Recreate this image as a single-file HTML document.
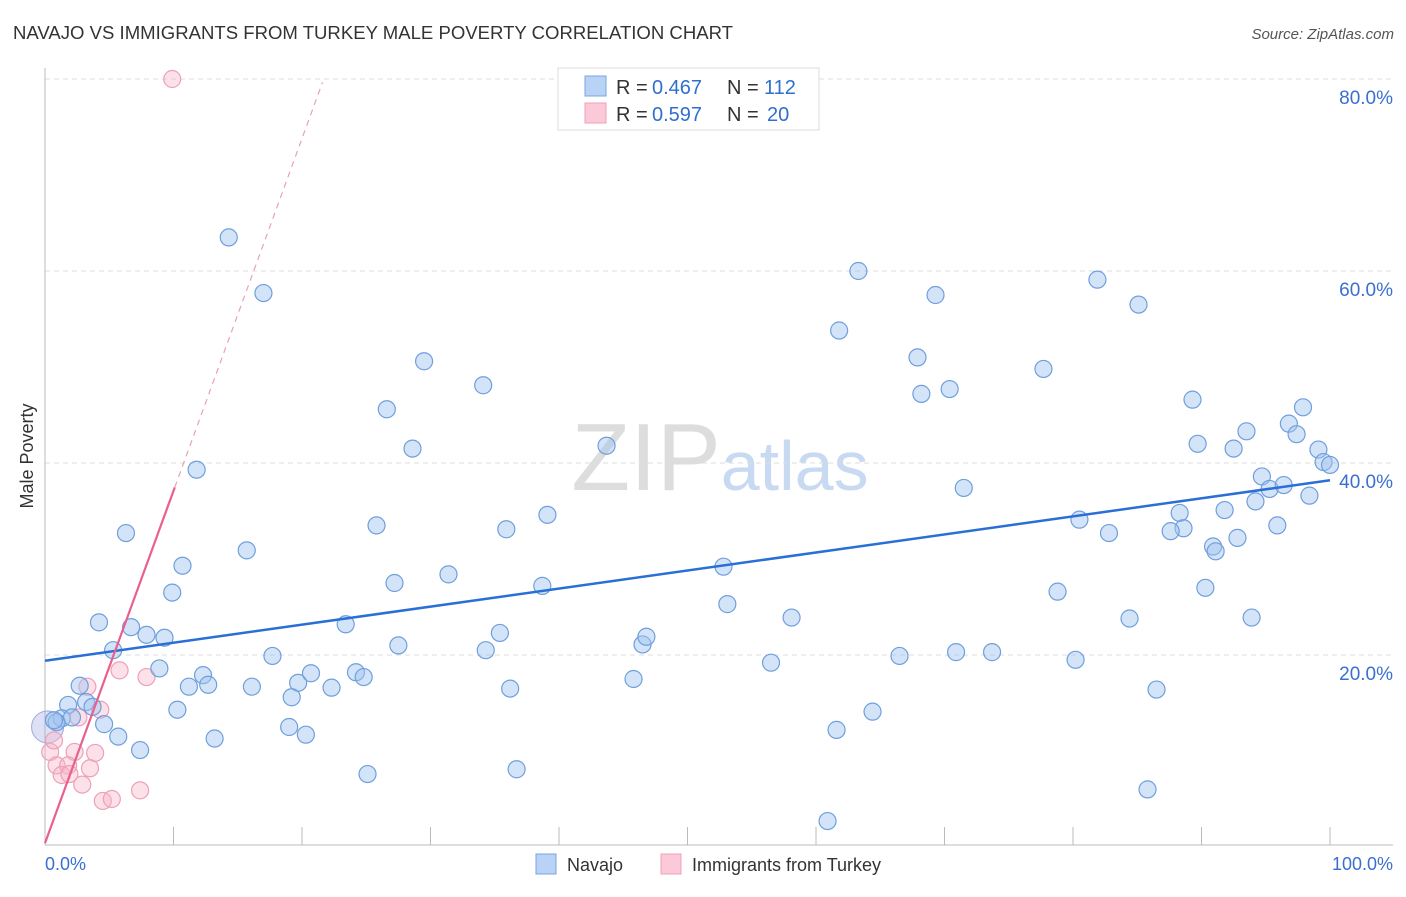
<!DOCTYPE html>
<html><head><meta charset="utf-8"><style>
body{margin:0;background:#fff;font-family:"Liberation Sans",sans-serif;}
svg text{font-family:"Liberation Sans",sans-serif;}
</style></head><body>
<svg id="chart" width="1406" height="892" xmlns="http://www.w3.org/2000/svg">
<text x="13" y="39" font-size="18" fill="#333" textLength="720" lengthAdjust="spacingAndGlyphs">NAVAJO VS IMMIGRANTS FROM TURKEY MALE POVERTY CORRELATION CHART</text>
<text x="1394" y="39" font-size="15" fill="#555" font-style="italic" text-anchor="end">Source: ZipAtlas.com</text>
<text x="720" y="490" font-size="96" fill="#ddd" text-anchor="middle" font-family="Liberation Serif">ZIP<tspan fill="#c8daf2" font-family="Liberation Sans" font-size="70">atlas</tspan></text>
<text transform="translate(33,456) rotate(-90)" font-size="18" fill="#333" text-anchor="middle">Male Poverty</text>
<g id="grid"></g><g id="pts"></g><g id="lines"></g>
<g>
<rect x="558" y="68" width="261" height="62" fill="#fff" stroke="#ddd"/>
<rect x="585" y="76" width="21" height="20" fill="#b8d3f5" stroke="#7aa6e0"/>
<rect x="585" y="103" width="21" height="20" fill="#fbc9d7" stroke="#f0a0b8"/>
<text x="616" y="94" font-size="20" fill="#333">R =</text>
<text x="652" y="94" font-size="20" fill="#2f6fd0">0.467</text>
<text x="727" y="94" font-size="20" fill="#333">N =</text>
<text x="764" y="94" font-size="20" fill="#2f6fd0">112</text>
<text x="616" y="121" font-size="20" fill="#333">R =</text>
<text x="652" y="121" font-size="20" fill="#2f6fd0">0.597</text>
<text x="727" y="121" font-size="20" fill="#333">N =</text>
<text x="767" y="121" font-size="20" fill="#2f6fd0">20</text>
</g>
<g>
<rect x="536" y="854" width="20" height="20" fill="#b8d3f5" stroke="#7aa6e0"/>
<text x="567" y="871" font-size="18" fill="#333">Navajo</text>
<rect x="661" y="854" width="20" height="20" fill="#fbc9d7" stroke="#f0a0b8"/>
<text x="692" y="871" font-size="18" fill="#333">Immigrants from Turkey</text>
</g>
<text x="45" y="870" font-size="18" fill="#3a6fd0">0.0%</text>
<text x="1393" y="870" font-size="18" fill="#3a6fd0" text-anchor="end">100.0%</text>
</svg>
<script>
const yTicks=[20,40,60,80];
const yTickLabels=["20.0%","40.0%","60.0%","80.0%"];
const xTicks=[10,20,30,40,50,60,70,80,90,100];
const navajoPx=[[229,237],[263,293],[424,361],[483,385],[387,409],[412,449],[197,470],[126,533],[376,525],[247,550],[506,529],[548,515],[606,446],[183,566],[172,593],[394,583],[448,574],[542,586],[99,622],[131,627],[147,635],[165,638],[113,650],[159,668],[203,675],[189,687],[208,685],[252,687],[273,656],[298,683],[311,673],[331,688],[346,624],[356,672],[364,677],[399,645],[292,697],[177,710],[215,739],[289,727],[306,735],[140,750],[118,737],[104,724],[86,702],[92,707],[68,705],[62,718],[56,722],[80,686],[72,717],[368,774],[486,650],[500,633],[510,689],[516,769],[642,644],[647,637],[633,679],[724,567],[727,604],[792,618],[771,663],[836,730],[828,821],[872,712],[899,656],[956,652],[992,652],[859,271],[839,331],[936,295],[917,357],[921,394],[949,389],[964,488],[1043,369],[1098,280],[1138,305],[1080,520],[1109,533],[1058,592],[1075,660],[1130,619],[1156,690],[1147,789],[1193,400],[1198,444],[1233,449],[1246,431],[1262,476],[1256,501],[1270,489],[1284,485],[1289,424],[1296,434],[1303,407],[1318,450],[1323,462],[1330,465],[1309,496],[1277,525],[1225,510],[1237,538],[1180,513],[1184,528],[1171,531],[1213,547],[1216,551],[1205,588],[1252,618],[54,720]];
const turkeyPx=[[172,79],[119,670],[147,677],[88,687],[100,710],[78,717],[50,752],[75,752],[95,753],[56,765],[68,765],[90,768],[62,775],[70,774],[82,785],[103,801],[112,799],[140,790],[54,740]];
const navajoX=navajoPx.map(p=>+((p[0]-45)/12.85).toFixed(1));
const navajoY=navajoPx.map(p=>+((847-p[1])/9.6).toFixed(1));
const turkeyX=turkeyPx.map(p=>+((p[0]-45)/12.85).toFixed(1));
const turkeyY=turkeyPx.map(p=>+((847-p[1])/9.6).toFixed(1));
const navajoTrend=[19.4,38.2];
const turkeyTrend=[0.4,3.67];
const X=v=>45+v*12.85, Y=v=>847-v*9.6;
const NS="http://www.w3.org/2000/svg";
function mk(tag,attrs,parent){const e=document.createElementNS(NS,tag);for(const k in attrs)e.setAttribute(k,attrs[k]);parent.appendChild(e);return e;}
const grid=document.getElementById('grid');
yTicks.forEach((t,i)=>{
 const l=mk('line',{x1:45,x2:1393,y1:Y(t),y2:Y(t),stroke:'#ddd','stroke-dasharray':'5,4'},grid);
 
 
 const tx=mk('text',{x:1393,y:Y(t)+25,'font-size':19,fill:'#3a6fd0','text-anchor':'end'},grid);
 tx.textContent=yTickLabels[i];
 
 
});
const ax=mk('line',{x1:45,x2:45,y1:68,y2:845,stroke:'#bbb'},grid);


const bx=mk('line',{x1:45,x2:1393,y1:845,y2:845,stroke:'#bbb'},grid);


xTicks.forEach(t=>{
 const l=mk('line',{x1:X(t),x2:X(t),y1:827,y2:845,stroke:'#bbb'},grid);
 
 
});
const pts=document.getElementById('pts');
const big=mk('circle',{cx:X(0.2),cy:Y(12.5),r:16,fill:'rgba(160,170,225,0.35)',stroke:'#9aaadc'},pts);


turkeyX.forEach((x,i)=>{
 const c=mk('circle',{cx:X(x),cy:Y(turkeyY[i]),r:8.5,fill:'rgba(248,180,200,0.4)',stroke:'#eea0b8','stroke-width':1.2},pts);
 
 
});
navajoX.forEach((x,i)=>{
 const c=mk('circle',{cx:X(x),cy:Y(navajoY[i]),r:8.5,fill:'rgba(160,196,240,0.45)',stroke:'#6f9fdc','stroke-width':1.2},pts);
 
 
});
const lines=document.getElementById('lines');
const bl=mk('line',{x1:X(0),y1:Y(navajoTrend[0]),x2:X(100),y2:Y(navajoTrend[1]),stroke:'#2a6fd6','stroke-width':2.5},lines);


const tEnd=10.1, tDash=21.6;
const pl=mk('line',{x1:X(0),y1:Y(turkeyTrend[0]),x2:X(tEnd),y2:Y(turkeyTrend[0]+turkeyTrend[1]*tEnd),stroke:'#e8608e','stroke-width':2.2},lines);


const pd=mk('line',{x1:X(tEnd),y1:Y(turkeyTrend[0]+turkeyTrend[1]*tEnd),x2:X(tDash),y2:Y(turkeyTrend[0]+turkeyTrend[1]*tDash),stroke:'#eaa0b8','stroke-width':1.2,'stroke-dasharray':'6,5'},lines);


</script>
</body></html>
